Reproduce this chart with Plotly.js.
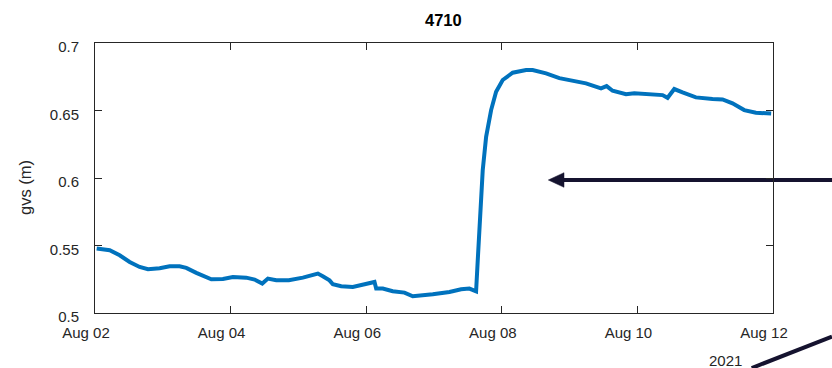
<!DOCTYPE html>
<html>
<head>
<meta charset="utf-8">
<script src="https://cdn.plot.ly/plotly-3.0.1.min.js"></script>
<style>html,body{margin:0;padding:0;background:#fff;}#chart{width:832px;height:368px;}</style>
</head>
<body>
<div id="chart"></div>
<script>
// ---- data ----
const times = [
  "2021-08-02 00:36","2021-08-02 05:12","2021-08-02 08:44","2021-08-02 12:16","2021-08-02 15:48",
  "2021-08-02 18:45","2021-08-02 22:53","2021-08-03 02:25","2021-08-03 05:57","2021-08-03 08:19",
  "2021-08-03 11:52","2021-08-03 14:48","2021-08-03 17:11","2021-08-03 21:17","2021-08-04 00:49",
  "2021-08-04 05:33","2021-08-04 08:30","2021-08-04 11:13","2021-08-04 13:12","2021-08-04 16:10",
  "2021-08-04 20:37","2021-08-05 01:35","2021-08-05 06:53","2021-08-05 08:38","2021-08-05 11:01",
  "2021-08-05 12:12","2021-08-05 15:10","2021-08-05 19:16","2021-08-05 22:48","2021-08-06 02:56",
  "2021-08-06 03:32","2021-08-06 05:52","2021-08-06 09:24","2021-08-06 13:33","2021-08-06 16:29",
  "2021-08-06 20:01","2021-08-06 23:34","2021-08-07 05:28","2021-08-07 09:36","2021-08-07 12:32",
  "2021-08-07 14:54","2021-08-07 15:29","2021-08-07 16:19","2021-08-07 17:15","2021-08-07 18:27",
  "2021-08-07 20:13","2021-08-07 21:59","2021-08-08 00:19","2021-08-08 03:51","2021-08-08 08:36",
  "2021-08-08 10:55","2021-08-08 15:40","2021-08-08 20:22","2021-08-09 01:05","2021-08-09 05:48",
  "2021-08-09 11:07","2021-08-09 13:06","2021-08-09 15:13","2021-08-09 19:58","2021-08-09 22:54",
  "2021-08-10 05:23","2021-08-10 08:54","2021-08-10 10:41","2021-08-10 13:03","2021-08-10 15:59",
  "2021-08-10 20:43","2021-08-11 02:36","2021-08-11 06:09","2021-08-11 09:40","2021-08-11 13:49",
  "2021-08-11 17:57","2021-08-11 23:21"
];
const gvs = [
  0.5478,0.5465,0.5428,0.5378,0.5341,
  0.5324,0.5331,0.5346,0.5346,0.5334,
  0.5297,0.5272,0.5250,0.5252,0.5267,
  0.5262,0.5248,0.5218,0.5255,0.5242,
  0.5242,0.5262,0.5292,0.5272,0.5242,
  0.5213,0.5198,0.5193,0.5213,0.5230,
  0.5181,0.5181,0.5161,0.5151,0.5124,
  0.5129,0.5139,0.5156,0.5176,0.5181,
  0.5160,0.5390,0.5761,0.6058,0.6305,
  0.6503,0.6639,0.6726,0.6780,0.6800,
  0.6800,0.6775,0.6740,0.6720,0.6701,
  0.6664,0.6681,0.6646,0.6620,0.6627,
  0.6620,0.6614,0.6594,0.6659,0.6634,
  0.6597,0.6585,0.6582,0.6553,0.6503,
  0.6483,0.6478
];
const xTickVals = ["2021-08-02","2021-08-04","2021-08-06","2021-08-08","2021-08-10","2021-08-12"];
const xTickText = ["Aug 02","Aug 04","Aug 06","Aug 08","Aug 10","Aug 12"];
const yTickVals = [0.5,0.55,0.6,0.65,0.7];
const yTickText = ["0.5","0.55","0.6","0.65","0.7"];
const titleText = "4710";
const yLabel = "gvs (m)";
const yearLabel = "2021";

// ---- layout helpers (pixel -> paper) ----
const W = 832, H = 368;
const M = {l:95, r:59, t:43, b:55};
const PW = W - M.l - M.r, PH = H - M.t - M.b;
const px = x => (x - M.l) / PW;
const py = y => (H - M.b - y) / PH;

const ink = "#262626";
const arrowCol = "#15132f";
const font = "Liberation Sans, Arial, Helvetica, sans-serif";

const trace = {
  x: times, y: gvs, type: "scatter", mode: "lines",
  line: {color: "#0072BD", width: 4}, hoverinfo: "skip"
};

const axisCommon = {
  showgrid: false, zeroline: false, showline: true, linecolor: ink, linewidth: 1,
  mirror: "ticks", ticks: "inside", ticklen: 7, tickwidth: 1, tickcolor: ink,
  tickfont: {family: font, size: 15, color: ink}
};

const layout = {
  width: W, height: H,
  margin: M,
  paper_bgcolor: "#fff", plot_bgcolor: "#fff",
  showlegend: false,
  title: {text: "<b>" + titleText + "</b>", font: {family: font, size: 16.5, color: "#000"},
    x: 427.5 / W, xref: "paper", xanchor: "center", y: 1 - 20 / H, yanchor: "middle"},
  xaxis: Object.assign({}, axisCommon, {
    type: "date", range: ["2021-08-02", "2021-08-12"],
    tickmode: "array", tickvals: xTickVals, ticktext: xTickText,
    ticklabelshift: -9, ticklabelstandoff: 6
  }),
  yaxis: Object.assign({}, axisCommon, {
    range: [0.5, 0.7],
    tickmode: "array", tickvals: yTickVals, ticktext: yTickText,
    ticklabelshift: 4, ticklabelstandoff: 12
  }),
  annotations: [
    {text: yLabel, xref: "paper", yref: "paper", x: px(25), y: py(188), textangle: -90,
      showarrow: false, xanchor: "center", yanchor: "middle",
      font: {family: font, size: 16.5, color: ink}},
    {text: yearLabel, xref: "paper", yref: "paper", x: px(725.3), y: py(360),
      showarrow: false, xanchor: "center", yanchor: "middle",
      font: {family: font, size: 15, color: ink}}
  ],
  shapes: [
    {type: "line", xref: "paper", yref: "paper", x0: px(562), y0: py(180), x1: px(840), y1: py(180),
      line: {color: arrowCol, width: 4}, layer: "below"},
    {type: "path", xref: "paper", yref: "paper",
      path: "M " + px(548.3) + "," + py(180) + " L " + px(564) + "," + py(172.7) +
            " L " + px(564) + "," + py(187.3) + " Z",
      fillcolor: arrowCol, line: {color: arrowCol, width: 0.5}},
    {type: "line", xref: "paper", yref: "paper", x0: px(751.7), y0: py(368), x1: px(832), y1: py(336.7),
      line: {color: arrowCol, width: 4}}
  ]
};

Plotly.newPlot("chart", [trace], layout, {staticPlot: true, displayModeBar: false});
</script>
</body>
</html>
